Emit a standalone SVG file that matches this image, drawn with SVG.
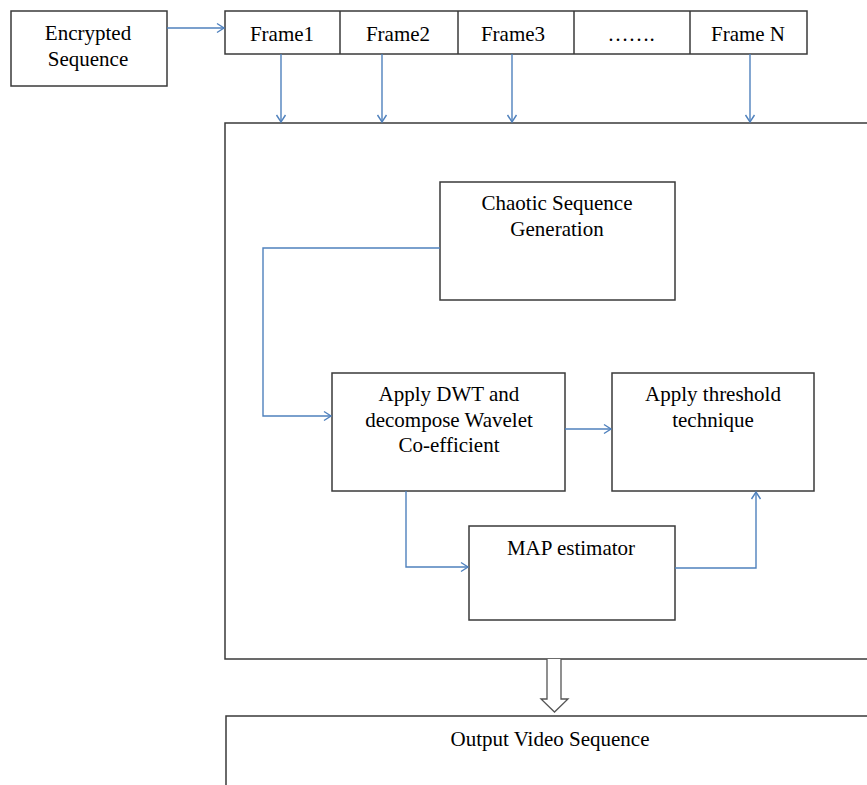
<svg xmlns="http://www.w3.org/2000/svg" width="867" height="785" viewBox="0 0 867 785">
<style>
.box{fill:#fff;stroke:#3a3a3a;stroke-width:1.5}
.t{font-family:"Liberation Serif","Times New Roman",serif;font-size:21px;fill:#000;text-anchor:middle}
.c{fill:none;stroke:#4f81bd;stroke-width:1.4}
</style>
<defs>
<marker id="ah" markerUnits="userSpaceOnUse" markerWidth="12" markerHeight="12" refX="9" refY="6" orient="auto">
<path d="M2,1.5 L9,6 L2,10.5" fill="none" stroke="#4f81bd" stroke-width="1.4"/>
</marker>
</defs>
<rect width="867" height="785" fill="#fff"/>
<g id="outer">
<rect class="box" x="225" y="123" width="650" height="536"/>
</g>
<g id="encrypted">
<rect class="box" x="11" y="11" width="156" height="75"/>
<text class="t" x="88" y="40">Encrypted</text>
<text class="t" x="88" y="66">Sequence</text>
</g>
<g id="frames">
<rect class="box" x="225" y="11" width="582" height="43"/>
<line class="box" x1="340" y1="11" x2="340" y2="54"/>
<line class="box" x1="458" y1="11" x2="458" y2="54"/>
<line class="box" x1="574" y1="11" x2="574" y2="54"/>
<line class="box" x1="690" y1="11" x2="690" y2="54"/>
<text class="t" x="282" y="41">Frame1</text>
<text class="t" x="398" y="41">Frame2</text>
<text class="t" x="513" y="41">Frame3</text>
<text class="t" x="631" y="41">…….</text>
<text class="t" x="748" y="41">Frame N</text>
</g>
<g id="chaotic">
<rect class="box" x="440" y="182" width="235" height="118"/>
<text class="t" x="557" y="210">Chaotic Sequence</text>
<text class="t" x="557" y="236">Generation</text>
</g>
<g id="dwt">
<rect class="box" x="332" y="373" width="233" height="118"/>
<text class="t" x="449" y="401">Apply DWT and</text>
<text class="t" x="449" y="427">decompose Wavelet</text>
<text class="t" x="449" y="452">Co-efficient</text>
</g>
<g id="threshold">
<rect class="box" x="612" y="373" width="202" height="118"/>
<text class="t" x="713" y="401">Apply threshold</text>
<text class="t" x="713" y="427">technique</text>
</g>
<g id="map">
<rect class="box" x="469" y="526" width="206" height="94"/>
<text class="t" x="571" y="555">MAP estimator</text>
</g>
<g id="output">
<rect class="box" x="226" y="716" width="650" height="80"/>
<text class="t" x="550" y="746">Output Video Sequence</text>
</g>
<g id="connectors">
<line class="c" x1="167" y1="28" x2="224" y2="28" marker-end="url(#ah)"/>
<line class="c" x1="281" y1="54" x2="281" y2="122" marker-end="url(#ah)"/>
<line class="c" x1="382" y1="54" x2="382" y2="122" marker-end="url(#ah)"/>
<line class="c" x1="512" y1="54" x2="512" y2="122" marker-end="url(#ah)"/>
<line class="c" x1="750" y1="54" x2="750" y2="122" marker-end="url(#ah)"/>
<polyline class="c" points="440,248 263,248 263,416 331,416" marker-end="url(#ah)"/>
<line class="c" x1="565" y1="429" x2="611" y2="429" marker-end="url(#ah)"/>
<polyline class="c" points="406,491 406,567 468,567" marker-end="url(#ah)"/>
<polyline class="c" points="675,568 756,568 756,492" marker-end="url(#ah)"/>
<path d="M547,659 L547,699 L541,699 L554.5,712 L568,699 L561,699 L561,659" fill="#fff" stroke="#555" stroke-width="1.3"/>
</g>
</svg>
